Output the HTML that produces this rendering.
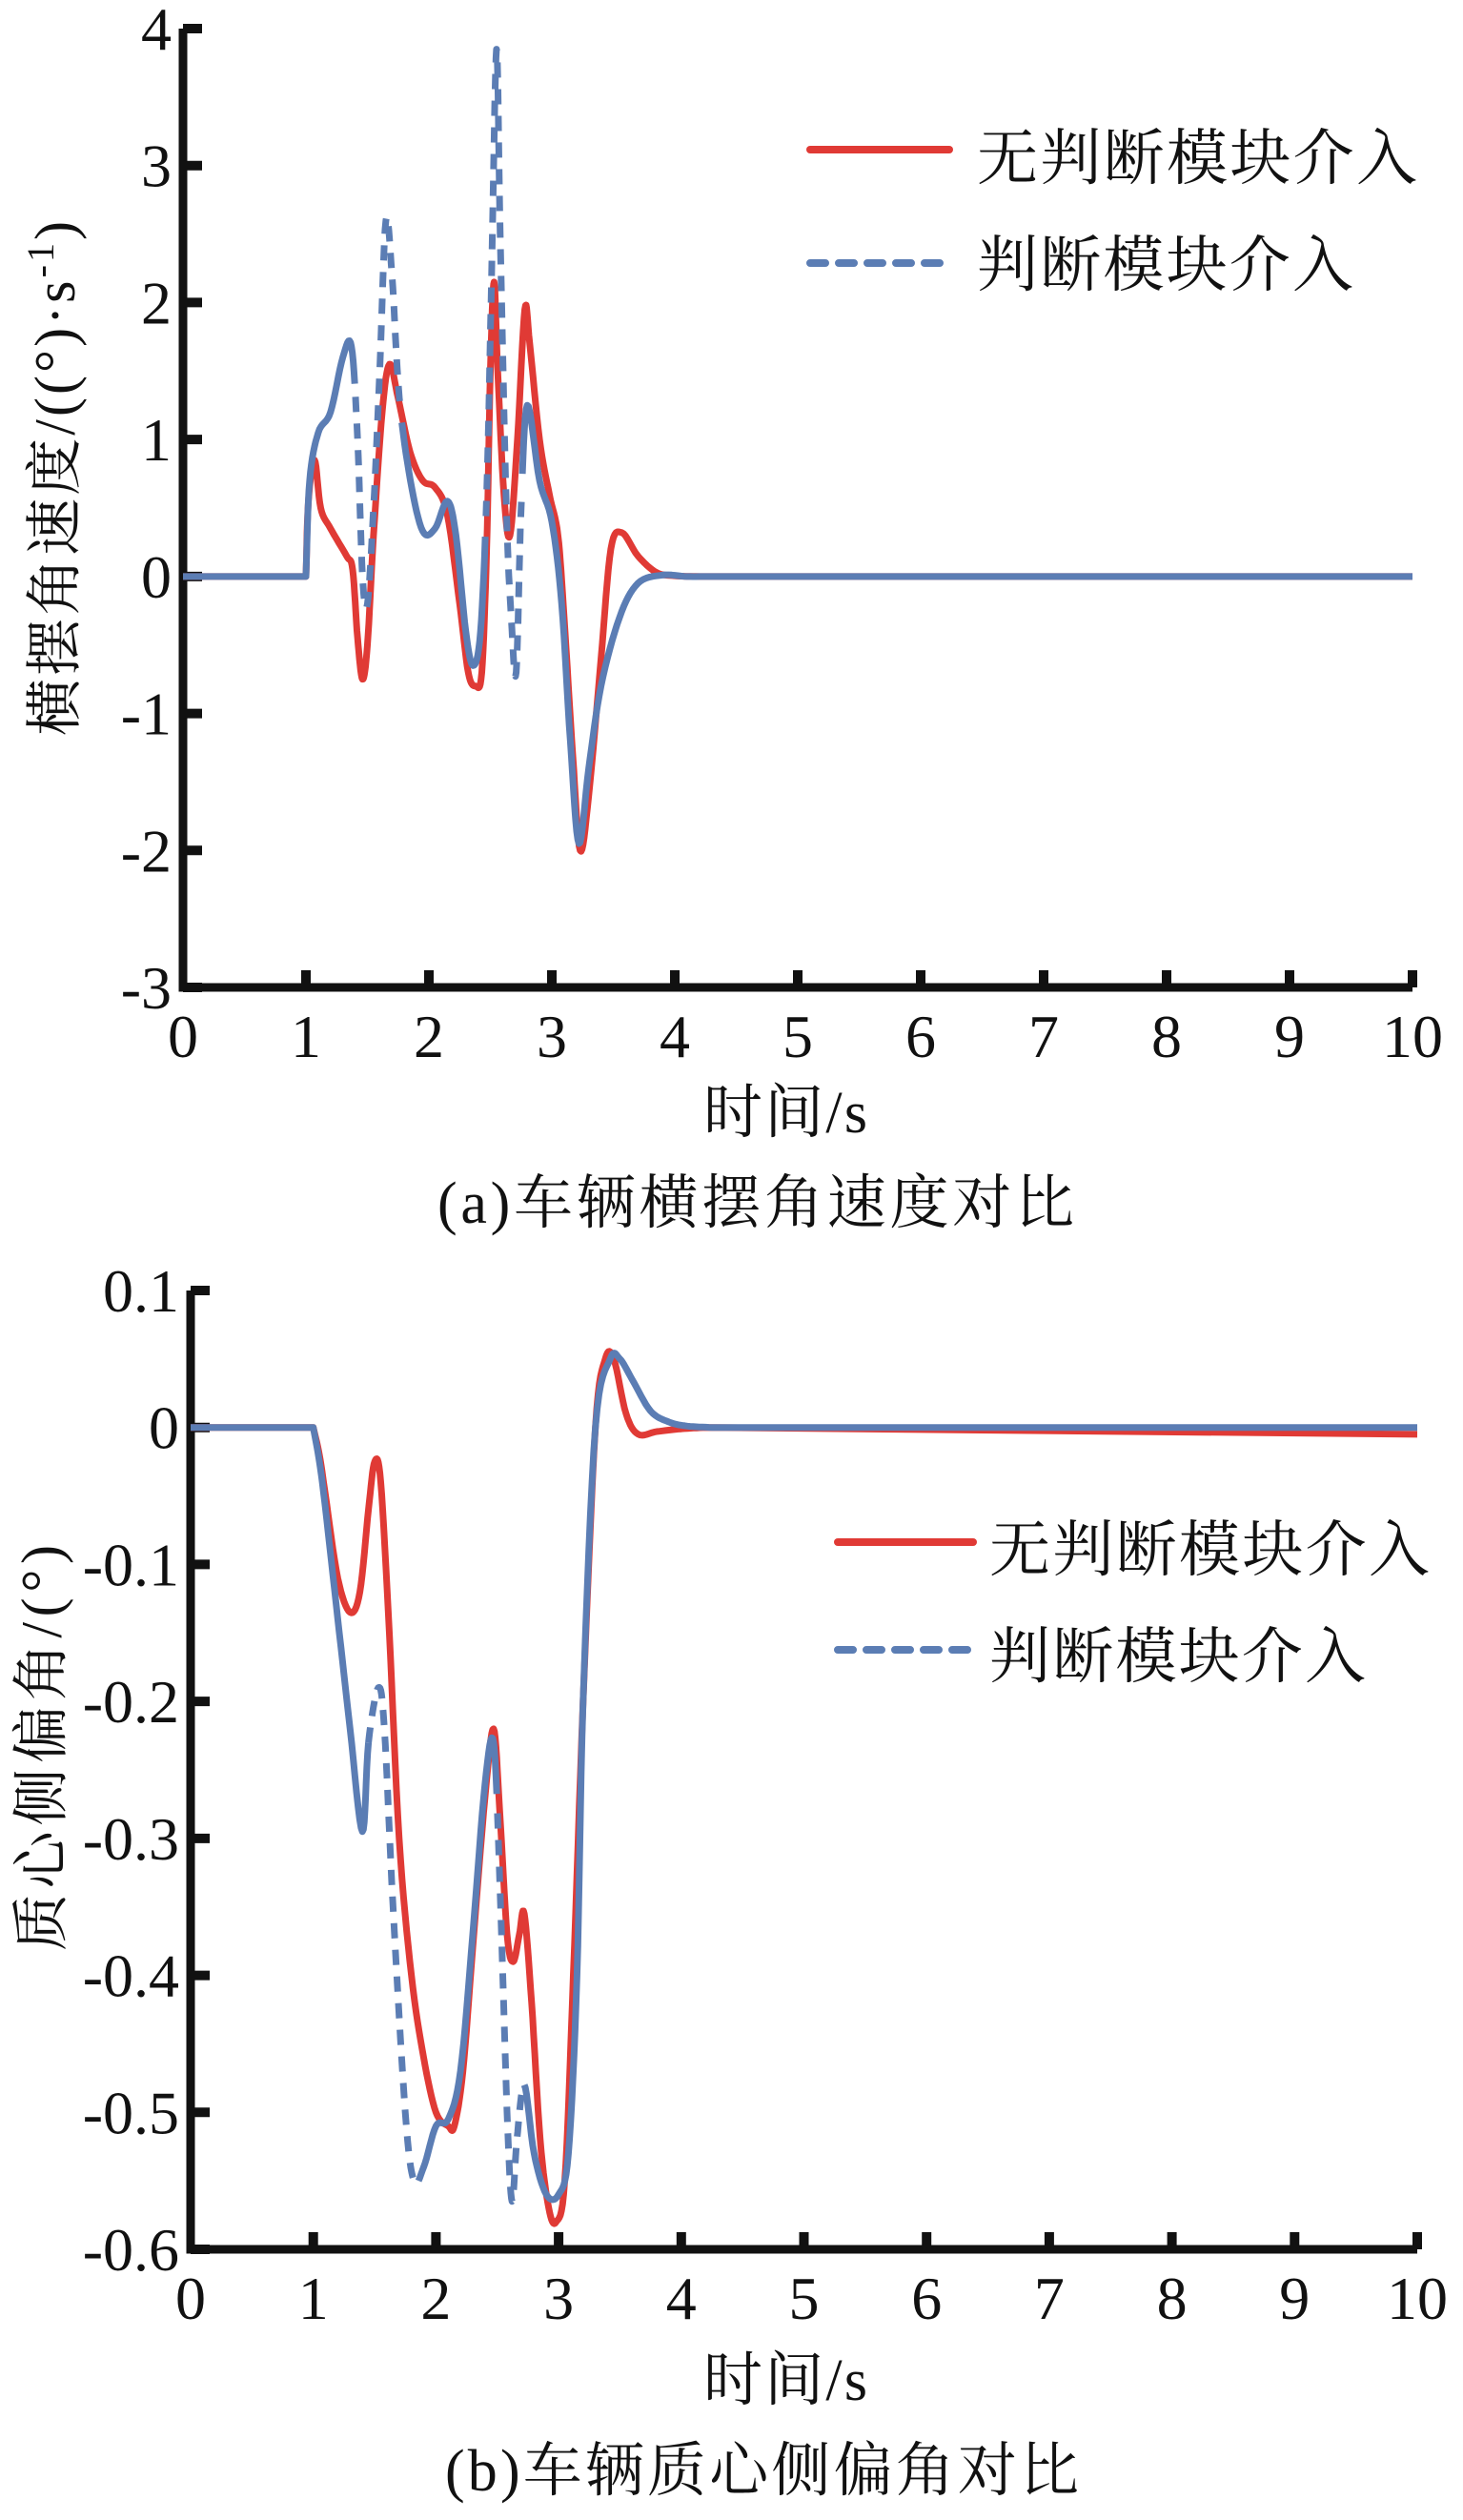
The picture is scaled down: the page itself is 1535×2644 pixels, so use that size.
<!DOCTYPE html>
<html><head><meta charset="utf-8"><style>
html,body{margin:0;padding:0;background:#fff}
svg{display:block}
text{font-family:"Liberation Serif","Noto Serif CJK SC","Noto Sans CJK SC",serif;fill:#111}
</style></head><body>
<svg id="s" width="1535" height="2644" viewBox="0 0 1535 2644" xmlns="http://www.w3.org/2000/svg">
<g id="g"></g>
<line x1="850" y1="157" x2="996" y2="157" stroke="#e03a35" stroke-width="8" stroke-linecap="round"/>
<line x1="850" y1="276" x2="996" y2="276" stroke="#5b7db4" stroke-width="8" stroke-linecap="round" stroke-dasharray="16 14"/>
<text x="1025" y="188" font-size="64" textLength="462">无判断模块介入</text>
<text x="1025" y="300" font-size="64" textLength="395">判断模块介入</text>
<line x1="879" y1="1618" x2="1021" y2="1618" stroke="#e03a35" stroke-width="8" stroke-linecap="round"/>
<line x1="879" y1="1731" x2="1021" y2="1731" stroke="#5b7db4" stroke-width="8" stroke-linecap="round" stroke-dasharray="16 14"/>
<text x="1038" y="1648" font-size="64" textLength="462">无判断模块介入</text>
<text x="1038" y="1760" font-size="64" textLength="395">判断模块介入</text>
<text x="738" y="1188" font-size="62" textLength="172">时间/s</text>
<text x="459" y="1283" font-size="62" textLength="668">(a)车辆横摆角速度对比</text>
<text x="738" y="2518" font-size="62" textLength="172">时间/s</text>
<text x="467" y="2613" font-size="62" textLength="665">(b)车辆质心侧偏角对比</text>
<text transform="translate(78,502) rotate(-90)" text-anchor="middle" font-size="60" textLength="540">横摆角速度/((°)·s<tspan dy="-22" font-size="40">-1</tspan><tspan dy="22">)</tspan></text>
<text transform="translate(64,1834) rotate(-90)" text-anchor="middle" font-size="60" textLength="426">质心侧偏角/(°)</text>
</svg>
<script>
var NS="http://www.w3.org/2000/svg",g=document.getElementById("g");
function el(n,a,t){var e=document.createElementNS(NS,n);for(var k in a)e.setAttribute(k,a[k]);if(t!=null)e.textContent=t;g.appendChild(e);return e;}
function chart(o){
 var X=function(t){return o.x0+t*(o.x1-o.x0)/10},Y=function(v){return o.yt+(o.vmax-v)*(o.yb-o.yt)/(o.vmax-o.vmin)};
 el("path",{d:"M"+o.x0+" "+o.yt+" V"+o.yb+" H"+o.x1,fill:"none",stroke:"#111","stroke-width":9});
 for(var i=1;i<=10;i++){var x=X(i);el("line",{x1:x,y1:o.yb,x2:x,y2:o.yb-18,stroke:"#111","stroke-width":10});}
 for(var i=0;i<=10;i++)el("text",{x:X(i),y:o.yb+73,"font-size":64,"text-anchor":"middle"},String(i));
 o.yt_.forEach(function(v){var y=Y(v);el("line",{x1:o.x0,y1:y,x2:o.x0+20,y2:y,stroke:"#111","stroke-width":10});
  el("text",{x:o.x0-12,y:y+22,"font-size":64,"text-anchor":"end"},o.fmt(v));});
 function path(pts,t0,t1){var d="",f=true;
  for(var i=0;i<pts.length;i++){var p=pts[i];if(p[0]<t0-1e-9||p[0]>t1+1e-9)continue;d+=(f?"M":"L")+X(p[0]).toFixed(1)+" "+Y(p[1]).toFixed(1);f=false;}
  return d;}
 function sm(pts){
  var out=[];for(var i=0;i<pts.length-1;i++){var p0=pts[Math.max(0,i-1)],p1=pts[i],p2=pts[i+1],p3=pts[Math.min(pts.length-1,i+2)];
   if(p2[0]-p1[0]>0.3){out.push(p1);continue;}
   if(p1[0]-p0[0]>0.3)p0=[2*p1[0]-p2[0],2*p1[1]-p2[1]];
   if(p3[0]-p2[0]>0.3)p3=[2*p2[0]-p1[0],2*p2[1]-p1[1]];
   var n=8;for(var k=0;k<n;k++){var s=k/n,s2=s*s,s3=s2*s;
   var f=function(a,b,c,d){return 0.5*(2*b+(-a+c)*s+(2*a-5*b+4*c-d)*s2+(-a+3*b-3*c+d)*s3)};
   out.push([f(p0[0],p1[0],p2[0],p3[0]),f(p0[1],p1[1],p2[1],p3[1])]);}}
  out.push(pts[pts.length-1]);return out;}
 var R=sm(o.red),B=sm(o.blue);
 el("path",{d:path(R,0,10),fill:"none",stroke:"#e03a35","stroke-width":7,"stroke-linejoin":"round"});
 var edges=[0].concat(o.dash.reduce(function(a,b){return a.concat(b)},[])).concat([10]);
 for(var i=0;i<edges.length-1;i++){var dashed=i%2==1;
  var a={d:path(B,edges[i],edges[i+1]),fill:"none",stroke:"#5b7db4","stroke-width":7,"stroke-linejoin":"round"};
  if(dashed){a["stroke-dasharray"]="16 12";}el("path",a);}
}
chart({x0:192,x1:1482,yt:30,yb:1036,vmax:4,vmin:-3,yt_:[4,3,2,1,0,-1,-2,-3],fmt:function(v){return String(v)},dash:[[1.4,1.78],[2.46,2.76]],
red:[[0,0],[1.0,0],[1.02,0.55],[1.07,0.85],[1.12,0.5],[1.2,0.35],[1.33,0.15],[1.38,0.05],[1.42,-0.45],[1.46,-0.75],[1.5,-0.5],[1.55,0.3],[1.62,1.2],[1.68,1.55],[1.75,1.3],[1.85,0.9],[1.95,0.7],[2.05,0.65],[2.15,0.45],[2.25,-0.2],[2.32,-0.7],[2.38,-0.8],[2.43,-0.7],[2.47,0.2],[2.5,1.5],[2.53,2.15],[2.56,1.5],[2.61,0.6],[2.66,0.3],[2.72,1.0],[2.78,1.95],[2.82,1.7],[2.9,1.0],[2.98,0.6],[3.05,0.3],[3.1,-0.3],[3.17,-1.3],[3.23,-2.0],[3.3,-1.6],[3.4,-0.6],[3.48,0.2],[3.57,0.32],[3.7,0.15],[3.85,0.03],[4.0,0.005],[4.2,0],[10,0]],
blue:[[0,0],[1.0,0],[1.03,0.7],[1.1,1.05],[1.2,1.2],[1.3,1.6],[1.37,1.68],[1.42,1.0],[1.46,0.0],[1.5,-0.2],[1.55,0.5],[1.6,1.5],[1.65,2.6],[1.7,2.2],[1.76,1.3],[1.85,0.7],[1.95,0.33],[2.05,0.35],[2.15,0.55],[2.22,0.3],[2.3,-0.4],[2.36,-0.65],[2.42,-0.4],[2.47,0.6],[2.51,2.2],[2.55,3.85],[2.58,2.5],[2.63,0.5],[2.67,-0.3],[2.71,-0.7],[2.75,0.5],[2.8,1.25],[2.9,0.7],[3.0,0.4],[3.08,-0.2],[3.15,-1.2],[3.22,-1.95],[3.3,-1.4],[3.4,-0.8],[3.55,-0.3],[3.7,-0.05],[3.9,0.01],[4.1,0],[4.3,0],[10,0]]});
chart({x0:200,x1:1487,yt:1354,yb:2360,vmax:0.1,vmin:-0.6,yt_:[0.1,0,-0.1,-0.2,-0.3,-0.4,-0.5,-0.6],fmt:function(v){return v==0?"0":v.toFixed(1)},dash:[[1.45,1.85],[2.5,2.72]],
red:[[0,0],[1.0,0],[1.05,-0.02],[1.1,-0.05],[1.2,-0.11],[1.3,-0.135],[1.38,-0.12],[1.45,-0.06],[1.5,-0.025],[1.55,-0.04],[1.62,-0.15],[1.7,-0.3],[1.8,-0.4],[1.9,-0.46],[2.0,-0.5],[2.1,-0.51],[2.15,-0.51],[2.22,-0.47],[2.3,-0.38],[2.4,-0.27],[2.47,-0.22],[2.52,-0.28],[2.58,-0.37],[2.63,-0.39],[2.68,-0.37],[2.72,-0.355],[2.78,-0.42],[2.85,-0.52],[2.92,-0.57],[2.98,-0.58],[3.05,-0.55],[3.12,-0.4],[3.2,-0.2],[3.3,0.0],[3.38,0.05],[3.45,0.05],[3.55,0.01],[3.65,-0.005],[3.8,-0.003],[4.0,-0.001],[4.2,0],[10,-0.005]],
blue:[[0,0],[1.0,0],[1.05,-0.025],[1.1,-0.06],[1.2,-0.14],[1.3,-0.22],[1.4,-0.295],[1.45,-0.23],[1.53,-0.19],[1.58,-0.22],[1.65,-0.35],[1.75,-0.5],[1.82,-0.55],[1.9,-0.54],[2.0,-0.51],[2.1,-0.505],[2.2,-0.47],[2.3,-0.37],[2.4,-0.26],[2.47,-0.23],[2.52,-0.33],[2.58,-0.5],[2.62,-0.565],[2.66,-0.52],[2.72,-0.48],[2.8,-0.53],[2.9,-0.56],[3.0,-0.56],[3.08,-0.53],[3.15,-0.4],[3.2,-0.2],[3.3,0.0],[3.42,0.05],[3.5,0.05],[3.6,0.035],[3.75,0.012],[3.9,0.004],[4.05,0.001],[4.25,0],[10,0]]});
</script>
</body></html>
